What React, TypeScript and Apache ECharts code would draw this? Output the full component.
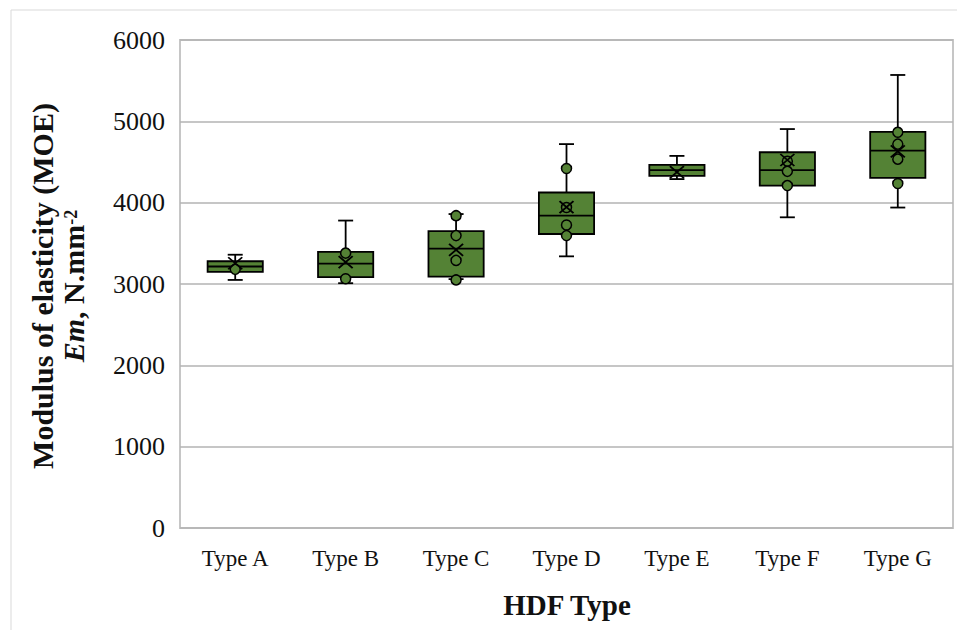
import React, { useEffect, useRef } from "react";
import * as echarts from "echarts";

const categories = ["Type A", "Type B", "Type C", "Type D", "Type E", "Type F", "Type G"];
const mins = [3050, 3010, 3060, 3340, 4290, 3820, 3940];
const q1s = [3150, 3085, 3090, 3615, 4330, 4210, 4305];
const medians = [3215, 3250, 3435, 3840, 4400, 4400, 4640];
const q3s = [3280, 3395, 3650, 4125, 4465, 4620, 4870];
const maxs = [3360, 3780, 3860, 4720, 4575, 4905, 5570];
const means = [3255, 3270, 3420, 3945, 4375, 4525, 4630];
// individual points: [category index, value]
const points: [number, number][] = [
  [0, 3180],
  [1, 3380], [1, 3065],
  [2, 3840], [2, 3595], [2, 3290], [2, 3050],
  [3, 4420], [3, 3940], [3, 3725], [3, 3595],
  [5, 4510], [5, 4385], [5, 4210],
  [6, 4865], [6, 4720], [6, 4535], [6, 4235],
];
const yTicks = [0, 1000, 2000, 3000, 4000, 5000, 6000];

const GREEN = "#548235";
const FONT = "'Liberation Serif', 'Times New Roman', serif";

export default function App() {
  const ref = useRef<HTMLDivElement>(null);
  useEffect(() => {
    document.body.style.margin = "0";
    const chart = echarts.init(ref.current!, null, { renderer: "svg" });
    const boxData = categories.map((_, i) => [i, mins[i], q1s[i], medians[i], q3s[i], maxs[i]]);
    const option: any = {
      animation: false,
      backgroundColor: "#fff",
      grid: {
        left: 180,
        right: 4,
        top: 40,
        bottom: 102,
        show: true,
        borderColor: "#c6c6c6",
        borderWidth: 2,
        backgroundColor: "transparent",
      },
      xAxis: {
        type: "category",
        data: categories,
        axisLine: { show: false },
        axisTick: { show: false },
        axisLabel: { fontFamily: FONT, fontSize: 23, color: "#111", margin: 19 },
      },
      yAxis: {
        type: "value",
        min: yTicks[0],
        max: yTicks[yTicks.length - 1],
        interval: 1000,
        axisLine: { show: false },
        axisTick: { show: false },
        axisLabel: {
          fontFamily: FONT,
          fontSize: 26,
          color: "#111",
          margin: 15,
          formatter: (v: number) => String(v),
        },
        splitLine: { lineStyle: { color: "#b3b3b3", width: 1.5 } },
      },
      graphic: [
        {
          type: "rect",
          shape: { x: 11, y: 10, width: 980, height: 660 },
          style: { fill: "none", stroke: "#d9d9d9", lineWidth: 1 },
          silent: true,
        },
        {
          type: "text",
          x: 567,
          y: 605,
          style: {
            text: "HDF Type",
            fontFamily: FONT,
            fontSize: 29,
            fontWeight: "bold",
            fill: "#111",
            align: "center",
            verticalAlign: "middle",
          },
        },
        {
          type: "text",
          x: 58,
          y: 286,
          rotation: Math.PI / 2,
          style: {
            text: "{b|Modulus of elasticity (MOE)}\n{i|Em}{b|, N.mm}{s|-2}",
            align: "center",
            verticalAlign: "middle",
            fill: "#111",
            rich: {
              b: { fontFamily: FONT, fontSize: 30, fontWeight: "bold", lineHeight: 31, fill: "#111" },
              i: { fontFamily: FONT, fontSize: 30, fontWeight: "bold", fontStyle: "italic", lineHeight: 31, fill: "#111" },
              s: {
                fontFamily: FONT,
                fontSize: 18,
                fontWeight: "bold",
                lineHeight: 18,
                verticalAlign: "top",
                padding: [4, 0, 0, 0],
                fill: "#111",
              },
            },
          },
        },
      ],
      series: [
        {
          type: "custom",
          z: 2,
          data: boxData,
          renderItem: (params: any, api: any) => {
            const idx = api.value(0);
            const pMin = api.coord([idx, api.value(1)]);
            const pQ1 = api.coord([idx, api.value(2)]);
            const pMed = api.coord([idx, api.value(3)]);
            const pQ3 = api.coord([idx, api.value(4)]);
            const pMax = api.coord([idx, api.value(5)]);
            const bw = api.size([1, 0])[0] * 0.5;
            const cw = 15;
            const x = pMed[0];
            const line = { stroke: "#000", lineWidth: 1.8 };
            return {
              type: "group",
              children: [
                { type: "line", shape: { x1: x, y1: pMax[1], x2: x, y2: pQ3[1] }, style: line },
                { type: "line", shape: { x1: x, y1: pQ1[1], x2: x, y2: pMin[1] }, style: line },
                { type: "line", shape: { x1: x - cw / 2, y1: pMax[1], x2: x + cw / 2, y2: pMax[1] }, style: line },
                { type: "line", shape: { x1: x - cw / 2, y1: pMin[1], x2: x + cw / 2, y2: pMin[1] }, style: line },
                {
                  type: "rect",
                  shape: { x: x - bw / 2, y: pQ3[1], width: bw, height: pQ1[1] - pQ3[1] },
                  style: { fill: GREEN, stroke: "#000", lineWidth: 1.8 },
                },
                { type: "line", shape: { x1: x - bw / 2, y1: pMed[1], x2: x + bw / 2, y2: pMed[1] }, style: line },
              ],
            };
          },
        },
        {
          type: "scatter",
          z: 3,
          data: points,
          symbol: "circle",
          symbolSize: 10,
          itemStyle: { color: GREEN, borderColor: "#000", borderWidth: 1.5, opacity: 1 },
        },
        {
          type: "scatter",
          z: 4,
          data: means.map((m, i) => [i, m]),
          symbol: "path://M0,0L14,12M14,0L0,12",
          symbolSize: [14, 12],
          itemStyle: { color: "none", borderColor: "#000", borderWidth: 1.8, opacity: 1 },
        },
      ],
    };
    chart.setOption(option);
    return () => chart.dispose();
  }, []);
  return <div ref={ref} style={{ width: 957, height: 630 }} />;
}
